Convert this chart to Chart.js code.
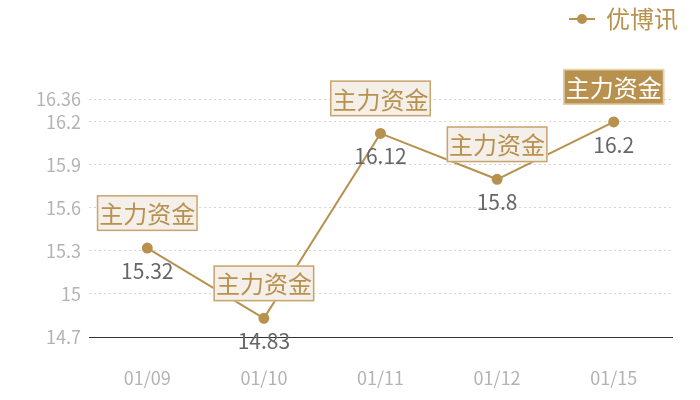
<!DOCTYPE html>
<html lang="zh">
<head>
  <meta charset="UTF-8">
  <title>优博讯</title>
  <style>
    body{ margin:0; background:#fff; }
    .canvas-con{ width:700px; height:400px; }
  </style>
</head>
<body>
  <div class="canvas-con">
    <canvas id="myChart"></canvas>
  </div>

  <script src="https://cdn.jsdelivr.net/npm/chart.js"></script>
  <script>
  const dates = ['01/09', '01/10', '01/11', '01/12', '01/15']
  const prices = [15.32, 14.83, 16.12, 15.8, 16.2]
  const yTicks = [14.7, 15, 15.3, 15.6, 15.9, 16.2, 16.36]
  const flagText = '主力资金'
  const flagged = [true, true, true, true, true]
  const highlightIdx = 4

  const gold = '#b8914f'
  const font = '"Noto Sans CJK SC", "Open Sans", sans-serif'

  // legend marker: short line with a dot in the middle
  const marker = document.createElement('canvas')
  marker.width = 26
  marker.height = 12
  const mctx = marker.getContext('2d')
  mctx.strokeStyle = gold
  mctx.lineWidth = 2
  mctx.beginPath(); mctx.moveTo(0, 6); mctx.lineTo(26, 6); mctx.stroke()
  mctx.fillStyle = gold
  mctx.beginPath(); mctx.arc(13, 6, 5, 0, Math.PI * 2); mctx.fill()

  const labelsPlugin = {
    id: 'flags',
    beforeInit: (chart) => {
      // give the legend a tall box so the plot starts lower, and nudge it right
      const lg = chart.legend
      if (!lg || lg._patched) return
      const fit = lg.fit
      lg.fit = function () { fit.call(this); this.height = 99 }
      const draw = lg.draw
      lg.draw = function () {
        this.ctx.save()
        this.ctx.translate(12, 1)
        draw.call(this)
        this.ctx.restore()
      }
      lg._patched = true
    },
    afterDatasetsDraw: (chart) => {
      const ctx = chart.ctx
      const meta = chart.getDatasetMeta(0)
      ctx.save()
      ctx.textAlign = 'center'
      ctx.textBaseline = 'middle'
      meta.data.forEach((pt, i) => {
        // value below the point
        ctx.font = '21px ' + font
        ctx.fillStyle = '#666'
        ctx.fillText(String(prices[i]), pt.x, pt.y + 23)

        if (!flagged[i]) return
        ctx.font = '24px ' + font
        const w = ctx.measureText(flagText).width + 5
        const h = 36
        const cy = pt.y - 35
        const hi = i === highlightIdx
        ctx.fillStyle = hi ? gold : '#f4efe8'
        ctx.fillRect(pt.x - w / 2, cy - h / 2, w, h)
        ctx.strokeStyle = hi ? '#e6d3b0' : '#c9a56e'
        ctx.lineWidth = 1.5
        ctx.strokeRect(pt.x - w / 2 + 0.75, cy - h / 2 + 0.75, w - 1.5, h - 1.5)
        ctx.fillStyle = hi ? '#fff' : gold
        ctx.fillText(flagText, pt.x, cy + 1)
      })
      ctx.restore()
    }
  }

  let myChart = new Chart(document.getElementById('myChart'), {
    type: 'line',
    data: {
      labels: dates,
      datasets: [{
        label: '优博讯',
        data: prices,
        borderColor: gold,
        backgroundColor: gold,
        borderWidth: 2,
        pointRadius: 4.5,
        pointHoverRadius: 4.5,
        tension: 0
      }]
    },
    options: {
      responsive: true,
      maintainAspectRatio: false,
      animation: false,
      layout: { padding: { top: 0, right: 28, left: 0, bottom: 0 } },
      plugins: {
        tooltip: { enabled: false },
        legend: {
          display: true,
          position: 'top',
          align: 'end',
          labels: {
            usePointStyle: true,
            pointStyle: marker,
            color: gold,
            font: { size: 24, family: font },
            padding: 6
          },
          onClick: null
        }
      },
      scales: {
        x: {
          offset: true,
          grid: { display: false },
          border: { display: true, color: '#333', width: 1 },
          ticks: { color: '#b3b3b3', font: { size: 18, family: font }, padding: 22 },
          afterFit: (scale) => { scale.height = 63 }
        },
        y: {
          min: 14.7,
          max: 16.36,
          afterBuildTicks: (scale) => { scale.ticks = yTicks.map(v => ({ value: v })) },
          grid: { color: '#d5d5d5', drawTicks: false },
          border: { display: false, dash: [2, 3] },
          ticks: {
            color: '#b3b3b3',
            font: { size: 18, family: font },
            padding: 8,
            callback: (v) => String(v)
          },
          afterFit: (scale) => { scale.width = 89 }
        }
      }
    },
    plugins: [labelsPlugin]
  })
  </script>
</body>
</html>
